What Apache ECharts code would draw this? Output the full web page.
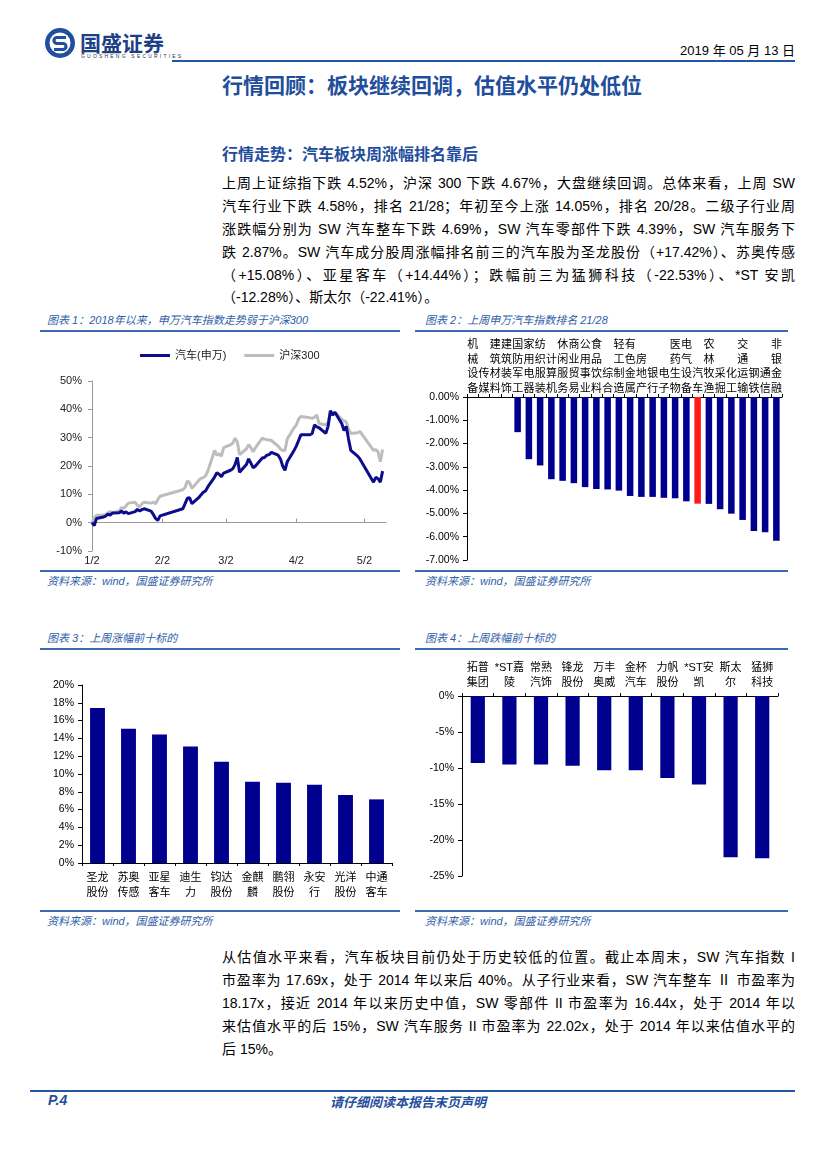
<!DOCTYPE html>
<html><head><meta charset="utf-8">
<script src="https://cdn.jsdelivr.net/npm/echarts@6/dist/echarts.min.js"></script>
<style>
html,body{margin:0;padding:0;background:#fff;}
#page{position:relative;width:827px;height:1170px;background:#fff;font-family:"Liberation Sans","Noto Sans CJK SC",sans-serif;color:#000;overflow:hidden;}
.a{position:absolute;white-space:nowrap;}
.jl{position:absolute;left:222px;width:573px;font-size:14px;line-height:20px;height:20px;text-align:justify;text-align-last:justify;overflow:visible;}
.ll{text-align-last:left;}
.ct{position:absolute;font-size:11px;font-style:italic;color:#2f5ea8;white-space:nowrap;}
.hl{position:absolute;height:2px;background:#3b6ab3;}
.src{position:absolute;font-size:11px;font-style:italic;color:#2f5ea8;white-space:nowrap;}
.chart{position:absolute;}
</style></head>
<body>
<div id="page">
  <!-- header -->
  <svg class="a" style="left:44px;top:27px;" width="32" height="32" viewBox="0 0 32 32">
    <circle cx="16" cy="16" r="15" fill="#1f4f9e"/>
    <circle cx="16" cy="16" r="10.5" fill="#fff"/>
    <path d="M22 10.5 H13 a3 3 0 0 0 0 6 h6 a3 3 0 0 1 0 6 H10" stroke="#1f4f9e" stroke-width="3.2" fill="none"/>
  </svg>
  <div class="a" style="left:80px;top:27px;font-size:21px;font-weight:bold;color:#1d3f86;">国盛证券</div>
  <div class="a" style="left:81px;top:53px;font-size:5px;color:#333;letter-spacing:2.2px;">GUOSHENG SECURITIES</div>
  <div class="a" style="right:32px;top:40px;font-size:13px;color:#000;">2019 年 05 月 13 日</div>
  <div class="hl" style="left:172px;top:60px;width:623px;background:#2456a6;"></div>
  <div class="a" style="left:222px;top:69px;font-size:21px;font-weight:bold;color:#1f4e9c;">行情回顾：板块继续回调，估值水平仍处低位</div>

  <div class="a" style="left:222px;top:141px;font-size:16px;font-weight:bold;color:#1f4e9c;">行情走势：汽车板块周涨幅排名靠后</div>
  <div class="jl" style="top:173px;">上周上证综指下跌 4.52%，沪深 300 下跌 4.67%，大盘继续回调。总体来看，上周 SW</div>
  <div class="jl" style="top:196px;">汽车行业下跌 4.58%，排名 21/28；年初至今上涨 14.05%，排名 20/28。二级子行业周</div>
  <div class="jl" style="top:219px;">涨跌幅分别为 SW 汽车整车下跌 4.69%，SW 汽车零部件下跌 4.39%，SW 汽车服务下</div>
  <div class="jl" style="top:242px;">跌 2.87%。SW 汽车成分股周涨幅排名前三的汽车股为圣龙股份（+17.42%）、苏奥传感</div>
  <div class="jl" style="top:265px;">（+15.08%）、亚星客车（+14.44%）；跌幅前三为猛狮科技（-22.53%）、*ST 安凯</div>
  <div class="jl ll" style="top:287px;">（-12.28%）、斯太尔（-22.41%）。</div>

  <!-- chart titles row 1 -->
  <div class="ct" style="left:47px;top:311px;">图表 1：2018年以来，申万汽车指数走势弱于沪深300</div>
  <div class="hl" style="left:40px;top:330px;width:360px;"></div>
  <div class="ct" style="left:425px;top:311px;">图表 2：上周申万汽车指数排名 21/28</div>
  <div class="hl" style="left:415px;top:330px;width:373px;"></div>
  <div id="c1" class="chart" style="left:40px;top:335px;width:360px;height:235px;"></div>
  <div id="c2" class="chart" style="left:415px;top:335px;width:385px;height:235px;"></div>
  <div class="hl" style="left:40px;top:570px;width:360px;"></div>
  <div class="hl" style="left:415px;top:570px;width:373px;"></div>
  <div class="src" style="left:47px;top:572px;">资料来源：wind，国盛证券研究所</div>
  <div class="src" style="left:425px;top:572px;">资料来源：wind，国盛证券研究所</div>

  <!-- chart titles row 2 -->
  <div class="ct" style="left:47px;top:629px;">图表 3：上周涨幅前十标的</div>
  <div class="hl" style="left:40px;top:648px;width:360px;"></div>
  <div class="ct" style="left:425px;top:629px;">图表 4：上周跌幅前十标的</div>
  <div class="hl" style="left:415px;top:648px;width:373px;"></div>
  <div id="c3" class="chart" style="left:40px;top:655px;width:360px;height:255px;"></div>
  <div id="c4" class="chart" style="left:415px;top:655px;width:385px;height:255px;"></div>
  <div class="hl" style="left:40px;top:910px;width:360px;"></div>
  <div class="hl" style="left:415px;top:910px;width:373px;"></div>
  <div class="src" style="left:47px;top:912px;">资料来源：wind，国盛证券研究所</div>
  <div class="src" style="left:425px;top:912px;">资料来源：wind，国盛证券研究所</div>

  <div class="jl" style="top:947px;">从估值水平来看，汽车板块目前仍处于历史较低的位置。截止本周末，SW 汽车指数 I</div>
  <div class="jl" style="top:970px;">市盈率为 17.69x，处于 2014 年以来后 40%。从子行业来看，SW 汽车整车 Ⅱ 市盈率为</div>
  <div class="jl" style="top:993px;">18.17x，接近 2014 年以来历史中值，SW 零部件 II 市盈率为 16.44x，处于 2014 年以</div>
  <div class="jl" style="top:1016px;">来估值水平的后 15%，SW 汽车服务 II 市盈率为 22.02x，处于 2014 年以来估值水平的</div>
  <div class="jl ll" style="top:1039px;">后 15%。</div>

  <!-- footer -->
  <div class="hl" style="left:30px;top:1090px;width:765px;background:#2456a6;"></div>
  <div class="a" style="left:48px;top:1092px;font-size:14px;font-weight:bold;font-style:italic;color:#1f4e9c;">P.4</div>
  <div class="a" style="left:330px;top:1092px;font-size:13px;font-weight:bold;font-style:italic;color:#1f4e9c;">请仔细阅读本报告末页声明</div>
</div>

<script>
// ---------- Chart 1 data ----------
const trendDates = ['2019-01-02','2019-01-03','2019-01-04','2019-01-07','2019-01-08','2019-01-09','2019-01-10','2019-01-11',
 '2019-01-14','2019-01-15','2019-01-16','2019-01-17','2019-01-18','2019-01-21','2019-01-22','2019-01-23','2019-01-24','2019-01-25',
 '2019-01-28','2019-01-29','2019-01-30','2019-01-31','2019-02-01','2019-02-11','2019-02-12','2019-02-13','2019-02-14','2019-02-15',
 '2019-02-18','2019-02-19','2019-02-20','2019-02-21','2019-02-22','2019-02-25','2019-02-26','2019-02-27','2019-02-28','2019-03-01',
 '2019-03-04','2019-03-05','2019-03-06','2019-03-07','2019-03-08','2019-03-11','2019-03-12','2019-03-13','2019-03-14','2019-03-15',
 '2019-03-18','2019-03-19','2019-03-20','2019-03-21','2019-03-22','2019-03-25','2019-03-26','2019-03-27','2019-03-28','2019-03-29',
 '2019-04-01','2019-04-02','2019-04-03','2019-04-04','2019-04-08','2019-04-09','2019-04-10','2019-04-11','2019-04-12',
 '2019-04-15','2019-04-16','2019-04-17','2019-04-18','2019-04-19','2019-04-22','2019-04-23','2019-04-24','2019-04-25','2019-04-26',
 '2019-04-29','2019-04-30','2019-05-06','2019-05-07','2019-05-08','2019-05-09','2019-05-10'];
const autoIndex = [0,-1.0,1.5,2.0,2.3,3.0,2.7,3.4,
 3.5,4.1,3.4,3.8,3.2,3.9,4.7,4.1,4.6,4.9,
 4.1,2.9,1.5,0.8,2.4,4.9,6.7,8.6,8.8,6.7,
 8.8,9.8,10.7,11.2,12.6,16.1,17.6,17.1,16.2,17.5,
 18.5,19.0,20.5,23.0,17.8,20.5,22.5,21.0,19.3,20.0,
 22.8,23.0,23.8,24.0,24.8,23.8,22.5,20.0,18.5,21.5,
 25.5,27.0,29.0,31.0,31.0,31.5,34.5,33.8,33.5,
 31.5,34.0,39.5,38.0,39.0,35.0,32.5,34.0,29.5,25.5,
 23.5,22.5,14.3,16.0,15.5,14.3,18.2];
const hs300Index = [0,1.8,2.6,2.7,2.9,3.5,3.9,3.5,
 4.1,5.3,5.1,5.9,6.9,7.2,6.1,5.6,6.7,7.2,
 6.9,7.2,6.7,8.2,9.3,11.6,12.4,14.7,14.1,12.1,
 14.9,15.6,15.9,16.5,18.2,25.5,23.8,24.3,23.5,26.5,
 27.5,28.0,29.8,28.5,24.0,26.0,27.5,26.5,25.0,26.5,
 29.8,29.5,29.3,29.2,29.0,27.0,26.0,25.5,25.5,29.5,
 33.5,34.5,36.5,37.5,37.0,36.8,37.2,38.0,35.0,
 34.5,35.5,38.5,38.0,39.0,36.5,36.0,35.5,33.0,31.5,
 31.7,32.2,25.5,25.8,25.0,21.5,25.8];
const trendTickDates = ['2019-01-02','2019-02-02','2019-03-02','2019-04-02','2019-05-02'];
const trendTickLabels = ['1/2','2/2','3/2','4/2','5/2'];
const trendSeriesNames = ['汽车(申万)','沪深300'];

// ---------- Chart 2 data ----------
const industries = ['机械设备','传媒','建筑材料','建筑装饰','国防军工','家用电器','纺织服装','计算机','休闲服务','商业贸易',
 '公用事业','食品饮料','综合','轻工制造','有色金属','房地产','银行','电子','医药生物','电气设备','汽车','农林牧渔','采掘','化工',
 '交通运输','钢铁','通信','非银金融'];
const industryWeekly = [0,0,0,0,-1.51,-2.67,-2.94,-3.53,-3.60,-3.70,
 -3.87,-3.95,-3.97,-4.02,-4.25,-4.29,-4.29,-4.33,-4.35,-4.48,-4.58,-4.59,-4.82,-5.01,
 -5.28,-5.75,-5.81,-6.17];
const highlightIndustry = '汽车';

// ---------- Chart 3 data ----------
const gainers = ['圣龙股份','苏奥传感','亚星客车','迪生力','钧达股份','金麒麟','鹏翎股份','永安行','光洋股份','中通客车'];
const gainerValues = [17.42,15.08,14.44,13.1,11.38,9.13,9.02,8.8,7.64,7.15];

// ---------- Chart 4 data ----------
const losers = ['拓普集团','*ST嘉陵','常熟汽饰','锋龙股份','万丰奥威','金杯汽车','力帆股份','*ST安凯','斯太尔','猛狮科技'];
const loserValues = [-9.3,-9.5,-9.5,-9.7,-10.3,-10.3,-11.4,-12.28,-22.41,-22.53];

// ---------- helpers ----------
const DAY = 86400000;
const base = Date.parse(trendDates[0]);
const dayOff = d => Math.round((Date.parse(d) - base) / DAY);
const tickPos = trendTickDates.map(dayOff);
const navy = '#0c0c8c';
const barNavy = '#00008f';
const FONT = '"Liberation Sans","Noto Sans CJK SC",sans-serif';
const split2 = n => n.startsWith('*ST') ? n.slice(0,4) + '\n' + n.slice(4) : n.slice(0,2) + '\n' + n.slice(2);

// ---------- Chart 1 ----------
const c1 = echarts.init(document.getElementById('c1'));
c1.setOption({
  animation:false,
  textStyle:{fontFamily:FONT},
  legend:{top:10, left:95, itemWidth:30, itemHeight:3, itemGap:18,
    textStyle:{fontSize:11, color:'#222', fontFamily:FONT},
    data:[{name:trendSeriesNames[0], icon:'rect'},{name:trendSeriesNames[1], icon:'rect'}]},
  grid:{left:52, right:14, top:46, bottom:19},
  xAxis:{type:'value', min:0, max:129.5,
    splitLine:{show:false},
    axisLine:{onZero:true, lineStyle:{color:'#999'}},
    axisTick:{show:true, customValues:tickPos, length:4, inside:true, lineStyle:{color:'#999'}},
    axisLabel:{customValues:tickPos, fontSize:11, color:'#222', margin:4,
      formatter:v => trendTickLabels[tickPos.indexOf(Math.round(v))] || ''}},
  yAxis:{type:'value', min:-10, max:50, interval:10,
    splitLine:{show:false},
    axisLine:{show:true, lineStyle:{color:'#999'}},
    axisTick:{show:true, length:4, lineStyle:{color:'#999'}},
    axisLabel:{fontSize:11, color:'#222', margin:10, formatter:'{value}%'}},
  series:[
    {name:trendSeriesNames[1], type:'line', showSymbol:false, z:2,
     lineStyle:{color:'#bdbdbd', width:3}, itemStyle:{color:'#bdbdbd'},
     data:hs300Index.map((v,i)=>[dayOff(trendDates[i]), v])},
    {name:trendSeriesNames[0], type:'line', showSymbol:false, z:3,
     lineStyle:{color:navy, width:3}, itemStyle:{color:navy},
     data:autoIndex.map((v,i)=>[dayOff(trendDates[i]), v])}
  ]
});

// ---------- Chart 2 ----------
const c2 = echarts.init(document.getElementById('c2'));
c2.setOption({
  animation:false,
  textStyle:{fontFamily:FONT},
  grid:{left:52, right:18, top:62, bottom:10},
  xAxis:{type:'category', position:'top', data:industries,
    axisLine:{lineStyle:{color:'#000'}},
    axisTick:{show:true, length:3, lineStyle:{color:'#000'}},
    axisLabel:{interval:0, fontSize:11, color:'#000', lineHeight:14.5, margin:1,
      formatter:n => n.split('').join('\n')}},
  yAxis:{type:'value', min:-7, max:0, interval:1,
    splitLine:{show:false},
    axisLine:{show:true, lineStyle:{color:'#000'}},
    axisTick:{show:true, length:4, lineStyle:{color:'#000'}},
    axisLabel:{fontSize:10.5, color:'#000', margin:8, formatter:v => v.toFixed(2) + '%'}},
  series:[{type:'bar', barWidth:'58%',
    data:industryWeekly.map((v,i)=>({value:v, itemStyle:{color: industries[i]===highlightIndustry ? '#ff1a1a' : barNavy}}))}]
});

// ---------- Chart 3 ----------
const c3 = echarts.init(document.getElementById('c3'));
c3.setOption({
  animation:false,
  textStyle:{fontFamily:FONT},
  grid:{left:42, right:8, top:30, bottom:47},
  xAxis:{type:'category', data:gainers,
    axisLine:{lineStyle:{color:'#000'}},
    axisTick:{show:true, length:3, lineStyle:{color:'#000'}},
    axisLabel:{interval:0, fontSize:11, color:'#000', lineHeight:14.5, margin:8, formatter:split2}},
  yAxis:{type:'value', min:0, max:20, interval:2,
    splitLine:{show:false},
    axisLine:{show:true, lineStyle:{color:'#000'}},
    axisTick:{show:true, length:4, lineStyle:{color:'#000'}},
    axisLabel:{fontSize:10.5, color:'#000', margin:8, formatter:'{value}%'}},
  series:[{type:'bar', barWidth:'48%', itemStyle:{color:barNavy}, data:gainerValues}]
});

// ---------- Chart 4 ----------
const c4 = echarts.init(document.getElementById('c4'));
c4.setOption({
  animation:false,
  textStyle:{fontFamily:FONT},
  grid:{left:47, right:22, top:41, bottom:34},
  xAxis:{type:'category', position:'top', data:losers,
    axisLine:{lineStyle:{color:'#000'}},
    axisTick:{show:true, length:3, lineStyle:{color:'#000'}},
    axisLabel:{interval:0, fontSize:11, color:'#000', lineHeight:14.5, margin:6, formatter:split2}},
  yAxis:{type:'value', min:-25, max:0, interval:5,
    splitLine:{show:false},
    axisLine:{show:true, lineStyle:{color:'#000'}},
    axisTick:{show:true, length:4, lineStyle:{color:'#000'}},
    axisLabel:{fontSize:10.5, color:'#000', margin:8, formatter:'{value}%'}},
  series:[{type:'bar', barWidth:'45%', itemStyle:{color:barNavy}, data:loserValues}]
});
</script>
</body></html>
